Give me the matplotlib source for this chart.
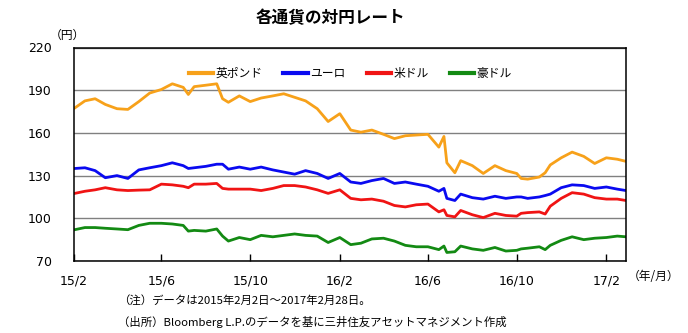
import matplotlib
matplotlib.use("Agg")
import matplotlib.pyplot as plt
import pandas as pd

plt.rcParams['font.family'] = ['DejaVu Sans', 'Noto Sans CJK JP']

dates = ['2015-02-02', '2015-02-16', '2015-03-02', '2015-03-16', '2015-04-01', '2015-04-16',
         '2015-05-01', '2015-05-16', '2015-06-01', '2015-06-16', '2015-07-01', '2015-07-08',
         '2015-07-16', '2015-08-01', '2015-08-16', '2015-08-24', '2015-09-01', '2015-09-16',
         '2015-10-01', '2015-10-16', '2015-11-01', '2015-11-16', '2015-12-01', '2015-12-16',
         '2016-01-01', '2016-01-16', '2016-02-01', '2016-02-16', '2016-03-01', '2016-03-16',
         '2016-04-01', '2016-04-16', '2016-05-01', '2016-05-16', '2016-06-01', '2016-06-16',
         '2016-06-23', '2016-06-27', '2016-07-08', '2016-07-16', '2016-08-01', '2016-08-16',
         '2016-09-01', '2016-09-16', '2016-10-01', '2016-10-07', '2016-10-16', '2016-11-01',
         '2016-11-09', '2016-11-16', '2016-12-01', '2016-12-16', '2017-01-01', '2017-01-16',
         '2017-02-01', '2017-02-16', '2017-02-28']

gbp = [177.5, 182.5, 184, 180, 177, 176.5,
       182, 188, 190.5, 194.5, 192, 187,
       192.5, 193.5, 194.5, 184, 181.5, 186,
       182, 184.5, 186, 187.5, 185, 182.5,
       177, 168, 173.5, 162, 160.5, 162,
       159, 156, 158, 158.5, 159, 150,
       157.5, 139, 132, 140.5, 137, 131.5,
       137, 133.5, 131.5, 128, 127.5, 129,
       132, 137.5, 142.5, 146.5, 143.5, 138.5,
       142.5, 141.5, 140]

eur = [135, 135.5, 133.5, 128.5, 130, 128,
       134, 135.5, 137, 139, 137, 135,
       135.5, 136.5, 138, 138, 134.5, 136,
       134.5, 136, 134, 132.5, 131, 133.5,
       131.5, 128, 131.5, 125.5, 124.5, 126.5,
       128, 124.5, 125.5, 124, 122.5, 119,
       121, 114, 112.5, 117, 114.5, 113.5,
       115.5, 114, 115, 115, 114, 115,
       116, 117, 121.5, 123.5, 123, 121,
       122, 120.5, 119.5]

usd = [117.5, 119, 120, 121.5, 120, 119.5,
       119.8, 120, 124, 123.5, 122.5, 121.5,
       124, 124, 124.5, 121, 120.5, 120.5,
       120.5, 119.5, 121, 123, 123, 122,
       120, 117.5, 120, 114, 113, 113.5,
       112, 109, 108, 109.5, 110, 104.5,
       106, 102, 101, 105.5, 102.5, 100.5,
       103.5, 102, 101.5, 103.5, 104, 104.5,
       103, 108.5, 114, 118, 117, 114.5,
       113.5, 113.5, 112.5]

aud = [92, 93.5, 93.5, 93, 92.5, 92,
       95, 96.5, 96.5, 96, 95, 91,
       91.5, 91, 92.5, 87.5, 84, 86.5,
       85, 88, 87, 88, 89, 88,
       87.5, 83, 86.5, 81.5, 82.5, 85.5,
       86, 84, 81, 80, 80, 78,
       80.5, 76, 76.5, 80.5, 78.5, 77.5,
       79.5, 77, 77.5, 78.5, 79, 80,
       78, 81, 84.5, 87, 85, 86,
       86.5, 87.5, 87]

series_names = ['英ポンド', 'ユーロ', '米ドル', '豪ドル']
series_colors = ['#F7A11A', '#0A0AF0', '#F01414', '#138A13']
xtick_dates = ['2015-02-01', '2015-06-01', '2015-10-01', '2016-02-01', '2016-06-01', '2016-10-01', '2017-02-01']
xtick_labels = ['15/2', '15/6', '15/10', '16/2', '16/6', '16/10', '17/2']
yticks = [70, 100, 130, 160, 190, 220]

x = pd.to_datetime(dates)
fig = plt.figure(figsize=(6.88, 3.33), dpi=100)
ax = fig.add_axes([74/688, 1 - 261/333, (626-74)/688, (261-47.5)/333])

for vals, name, c in zip([gbp, eur, usd, aud], series_names, series_colors):
    ax.plot(x, vals, color=c, lw=2.0, label=name, solid_joinstyle='round')

ax.set_ylim(70, 220)
ax.set_yticks(yticks)
ax.set_xlim(pd.Timestamp('2015-02-01'), pd.Timestamp('2017-02-28'))
ax.set_xticks(pd.to_datetime(xtick_dates))
ax.set_xticklabels(xtick_labels)
ax.grid(axis='y', color='#808080', lw=1)
ax.set_axisbelow(True)
for s in ax.spines.values():
    s.set_color('black')
    s.set_linewidth(1.1)
ax.tick_params(axis='x', direction='in', length=5, width=1, pad=10, labelsize=9)
ax.tick_params(axis='y', length=0, pad=16, labelsize=9)

leg = ax.legend(loc='upper center', bbox_to_anchor=(0.5, 0.96), ncol=4, frameon=False,
                handlelength=2.1, handletextpad=0.15, columnspacing=1.8,
                prop={'family': 'Noto Sans CJK JP', 'size': 8.5})
for h in leg.get_lines():
    h.set_linewidth(3)

fig.text(330/688, 1 - 18/333, '各通貨の対円レート', ha='center', va='center',
         fontsize=12, fontweight='bold', family='Noto Sans CJK JP')
fig.text(50/688, 1 - 35/333, '（円）', ha='left', va='center', fontsize=8.5, family='Noto Sans CJK JP')
fig.text(628/688, 1 - 277/333, '（年/月）', ha='left', va='center', fontsize=8.5, family='Noto Sans CJK JP')
fig.text(118/688, 1 - 300/333, '（注）データは2015年2月2日～2017年2月28日。', ha='left', va='center',
         fontsize=8.2, family='Noto Sans CJK JP')
fig.text(118/688, 1 - 322/333, '（出所）Bloomberg L.P.のデータを基に三井住友アセットマネジメント作成', ha='left',
         va='center', fontsize=8.2, family='Noto Sans CJK JP')

fig.savefig('out.png', dpi=100)
